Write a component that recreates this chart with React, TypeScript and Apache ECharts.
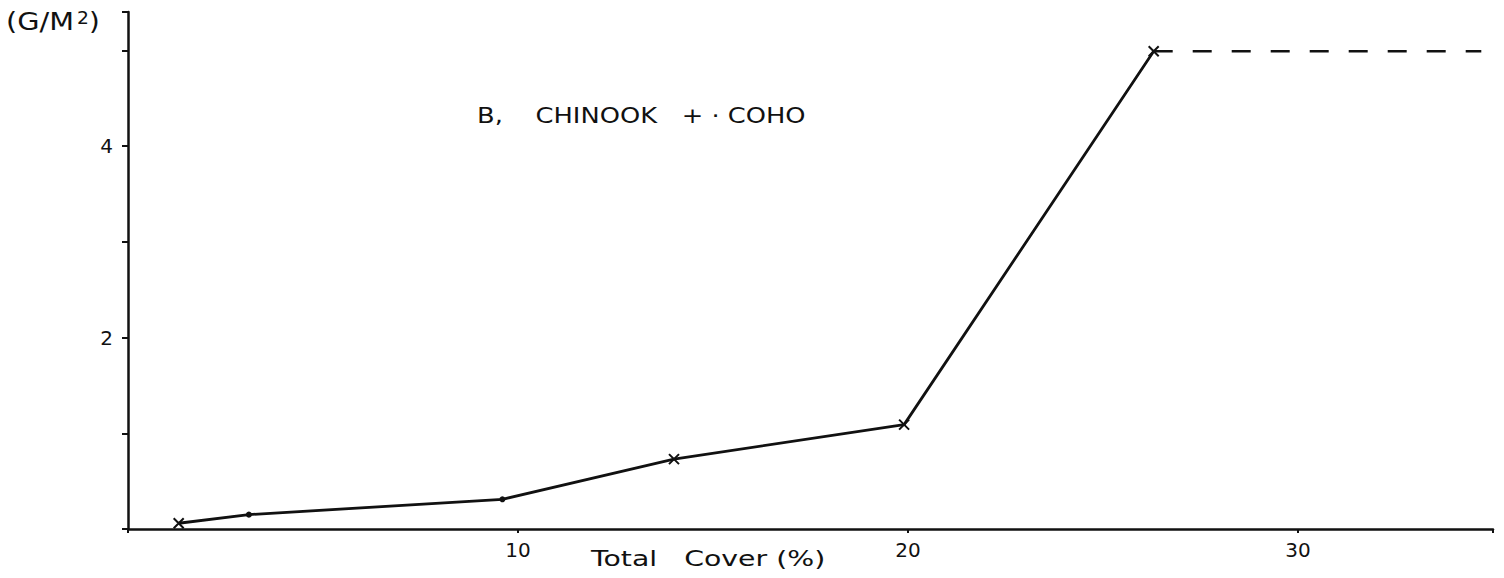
import React, { useEffect, useRef } from "react";
import * as echarts from "echarts";

const coverPct = [1.3, 3.1, 9.6, 14.0, 19.9, 26.3];
const biomass = [0.06, 0.15, 0.31, 0.73, 1.09, 4.99];
const markerKinds = ["x", "dot", "dot", "x", "x", "x"];
const dashedX = [26.3, 34.7];
const dashedY = [4.99, 4.99];
const xTickLabels = ["10", "20", "30"];
const yTickLabels = ["2", "4"];

const crossPath = "path://M0,0 L10,10 M10,0 L0,10";

export default function App() {
  const ref = useRef<HTMLDivElement>(null);
  useEffect(() => {
    const chart = echarts.init(ref.current!, null, { renderer: "svg" });
    const font = "'DejaVu Sans', sans-serif";
    const txt = (text: string, x: number, y: number, size: number, sx: number) => ({
      type: "text",
      x,
      y,
      scaleX: sx,
      style: { text, fontFamily: font, fontSize: size, fill: "#111", align: "left", verticalAlign: "top" },
    });
    chart.setOption({
      animation: false,
      backgroundColor: "#ffffff",
      grid: { left: 128, right: 11, top: 12, bottom: 49 },
      xAxis: {
        type: "value",
        min: 0,
        max: 35,
        interval: 10,
        axisLine: { show: true, onZero: false, lineStyle: { color: "#111", width: 2.5 } },
        axisTick: { show: true, length: 4, lineStyle: { color: "#111", width: 2 } },
        axisLabel: {
          color: "#111",
          fontFamily: font,
          fontSize: 20,
          margin: 11,
          formatter: (v: number) => (xTickLabels.includes(String(v)) ? String(v) : ""),
        },
        splitLine: { show: false },
      },
      yAxis: {
        type: "value",
        min: 0,
        max: 5.4,
        interval: 1,
        axisLine: { show: true, onZero: false, lineStyle: { color: "#111", width: 2.5 } },
        axisTick: { show: true, length: 6, lineStyle: { color: "#111", width: 2 } },
        axisLabel: {
          color: "#111",
          fontFamily: font,
          fontSize: 20,
          margin: 15,
          formatter: (v: number) => (yTickLabels.includes(String(v)) ? String(v) : ""),
        },
        splitLine: { show: false },
      },
      graphic: [
        txt("(G/M", 6, 9, 25, 1.15),
        txt("2", 77, 9, 17, 1.1),
        txt(")", 89, 9, 25, 1.1),
        txt("B,    CHINOOK   + · COHO", 477, 105, 22, 1.17),
        txt("Total   Cover (%)", 591, 548, 21, 1.35),
      ],
      series: [
        {
          type: "line",
          data: coverPct.map((x, i) => ({
            value: [x, biomass[i]],
            symbol: markerKinds[i] === "x" ? crossPath : "circle",
            symbolSize: markerKinds[i] === "x" ? 10 : 6,
            itemStyle:
              markerKinds[i] === "x"
                ? { color: "#111", borderColor: "#111", borderWidth: 2 }
                : { color: "#111", borderColor: "#111", borderWidth: 0 },
          })),
          lineStyle: { color: "#111", width: 2.8 },
          showSymbol: true,
          z: 3,
        },
        {
          type: "line",
          data: dashedX.map((x, i) => [x, dashedY[i]]),
          symbol: "none",
          lineStyle: { color: "#111", width: 2.5, type: [19, 20] },
          z: 2,
        },
      ],
    });
    return () => chart.dispose();
  }, []);
  return (
    <div
      ref={ref}
      style={{ position: "fixed", left: 0, top: 0, width: 1504, height: 578, background: "#fff" }}
    />
  );
}
